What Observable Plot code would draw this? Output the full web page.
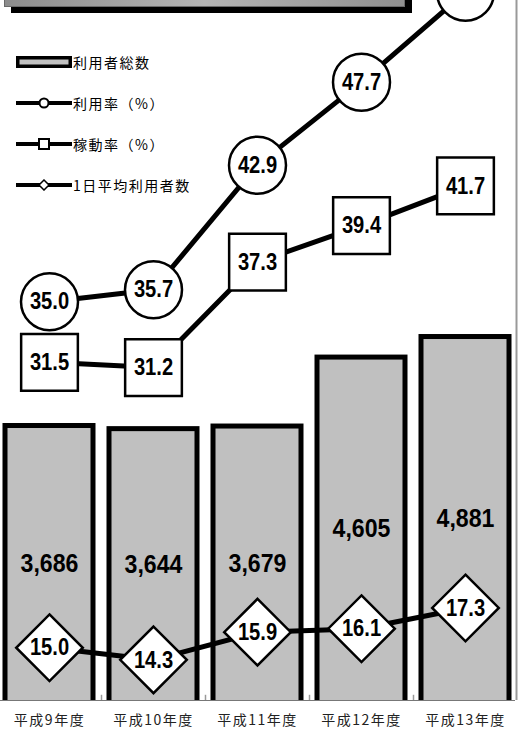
<!DOCTYPE html>
<html>
<head>
<meta charset="utf-8">
<script src="https://cdn.jsdelivr.net/npm/d3@7"></script>
<script src="https://cdn.jsdelivr.net/npm/@observablehq/plot@0.6"></script>
<style>
  html, body { margin: 0; padding: 0; background: #fff; }
  #wrap { position: relative; width: 520px; height: 733px; overflow: hidden; }
  #wrap > svg { position: absolute; left: 0; top: 0; }
  .shadow { position: absolute; left: 11px; top: -30px; width: 401px; height: 43px; background: #000; }
  .titlebox { position: absolute; left: 4px; top: -30px; width: 399px; height: 35px;
    background: linear-gradient(90deg, #8c8c8c 0%, #b4b4b4 50%, #909090 100%); border: 1px solid #6a6a6a; }
  .legend-row { position: absolute; left: 16px; height: 20px; display: flex; align-items: center;
    font-family: "Noto Sans CJK JP", sans-serif; font-size: 14px; letter-spacing: 1.5px; color: #000; white-space: nowrap; }
  #wrap .legend-row svg { position: static; display: block; flex: none; margin-right: 1px; }
</style>
</head>
<body>
<div id="wrap"></div>
<script>
// ---- data ----
const years = ["平成9年度", "平成10年度", "平成11年度", "平成12年度", "平成13年度"];
const totalUsers = [3686, 3644, 3679, 4605, 4881];      // 利用者総数
const usageRate = [35.0, 35.7, 42.9, 47.7, 52.9];       // 利用率（%）
const operatingRate = [31.5, 31.2, 37.3, 39.4, 41.7];   // 稼動率（%）
const dailyAverage = [15.0, 14.3, 15.9, 16.1, 17.3];    // 1日平均利用者数
const legendLabels = ["利用者総数", "利用率（%）", "稼動率（%）", "1日平均利用者数"];

const rows = years.map((year, i) => ({
  year,
  total: totalUsers[i],
  usage: usageRate[i],
  operating: operatingRate[i],
  daily: dailyAverage[i]
}));

const numFont = "'Liberation Sans', Arial, sans-serif";
const W = 520, H = 733;
const common = {
  width: W, height: H,
  marginTop: 0, marginBottom: 33, marginLeft: 0, marginRight: 5,
  style: { background: "transparent", overflow: "hidden" }
};

// ---- bars (利用者総数) ----
const barPlot = Plot.plot({
  ...common,
  x: { domain: years, range: [-3.5, 516.5], padding: 0, axis: null },
  y: { domain: [0, 9400], axis: null },
  marks: [
    Plot.barY(rows, { x: "year", y: "total", fill: "#c0c0c0", stroke: "#000", strokeWidth: 5,
      insetLeft: 8, insetRight: 8, insetBottom: -4, clip: true }),
    Plot.ruleY([0], { stroke: "#777", strokeWidth: 1 }),
    Plot.ruleX(years.slice(0, -1), { x: d => d, dx: 52, y1: 0, y2: 70, stroke: "#999", strokeWidth: 1.5 }),
    Plot.ruleX([years[years.length - 1]], { x: d => d, dx: 51, stroke: "#999", strokeWidth: 2 }),
    Plot.text(rows, { x: "year", y: d => d.total / 2, text: d => d3.format(",")(d.total),
      fontSize: 26, fontWeight: "bold", fontFamily: numFont, fill: "#000" }),
    Plot.text(years, { x: d => d, frameAnchor: "bottom", dy: 24, text: d => d,
      fontSize: 14, fontFamily: "'Noto Sans CJK JP', sans-serif", fill: "#222" })
  ]
});

// ---- lines (利用率・稼動率・1日平均利用者数) ----
const pointX = { type: "point", domain: years, range: [48.5, 464.5], padding: 0, axis: null };
const lineY = { domain: [11.95, 52.42], axis: null };
const lineStyle = { x: "year", stroke: "#000", strokeWidth: 5 };
const markStyle = { x: "year", fill: "#fff", stroke: "#000", strokeWidth: 2.5 };
const labelStyle = { x: "year", fontSize: 24, fontWeight: "bold", fontFamily: numFont, fill: "#000" };
const f1 = d3.format(".1f");

const linePlot = Plot.plot({
  ...common,
  x: pointX,
  y: lineY,
  marks: [
    Plot.line(rows, { ...lineStyle, y: "usage" }),
    Plot.line(rows, { ...lineStyle, y: "operating" }),
    Plot.line(rows, { ...lineStyle, y: "daily" }),
    Plot.dot(rows, { ...markStyle, y: "usage", symbol: "circle", r: 28.5 }),
    Plot.dot(rows, { ...markStyle, y: "operating", symbol: "square", r: 32 }),
    Plot.dot(rows, { ...markStyle, y: "daily", symbol: "diamond2", r: 30 }),
    Plot.text(rows, { ...labelStyle, y: "usage", text: d => f1(d.usage) }),
    Plot.text(rows, { ...labelStyle, y: "operating", text: d => f1(d.operating) }),
    Plot.text(rows, { ...labelStyle, y: "daily", text: d => f1(d.daily) })
  ]
});

const wrap = document.getElementById("wrap");
wrap.appendChild(barPlot);
wrap.appendChild(linePlot);

// condensed look of the numeric labels
function condense(svg, factor, test) {
  d3.select(svg).selectAll("text").each(function () {
    if (!test(this.textContent)) return;
    const w = this.getComputedTextLength();
    this.setAttribute("textLength", (w * factor).toFixed(2));
    this.setAttribute("lengthAdjust", "spacingAndGlyphs");
  });
}
condense(barPlot, 0.89, t => /^[\d,]+$/.test(t));
condense(linePlot, 0.84, t => /^[\d.]+$/.test(t));

// x labels letter spacing
d3.select(barPlot).selectAll("text").filter(function () { return /年度/.test(this.textContent); })
  .style("letter-spacing", "1.5px");

// ---- title box (cropped at top) ----
const shadow = document.createElement("div"); shadow.className = "shadow"; wrap.appendChild(shadow);
const tbox = document.createElement("div"); tbox.className = "titlebox"; wrap.appendChild(tbox);

// ---- legend ----
const centers = [62, 103, 144, 185];
const swatches = [
  `<rect x="1.75" y="1.75" width="52.5" height="8.5" fill="#c0c0c0" stroke="#000" stroke-width="3.5"/>`,
  `<line x1="0" y1="6" x2="56" y2="6" stroke="#000" stroke-width="4"/><circle cx="28" cy="6" r="4.5" fill="#fff" stroke="#000" stroke-width="2"/>`,
  `<line x1="0" y1="6" x2="56" y2="6" stroke="#000" stroke-width="4"/><rect x="23" y="1" width="10" height="10" fill="#fff" stroke="#000" stroke-width="2"/>`,
  `<line x1="0" y1="6" x2="56" y2="6" stroke="#000" stroke-width="4"/><path d="M28,1L33,6L28,11L23,6Z" fill="#fff" stroke="#000" stroke-width="1.5"/>`
];
legendLabels.forEach((label, i) => {
  const row = document.createElement("div");
  row.className = "legend-row";
  row.style.top = (centers[i] - 10) + "px";
  row.innerHTML = `<svg width="56" height="12" viewBox="0 0 56 12">${swatches[i]}</svg><span>${label}</span>`;
  wrap.appendChild(row);
});
</script>
</body>
</html>
